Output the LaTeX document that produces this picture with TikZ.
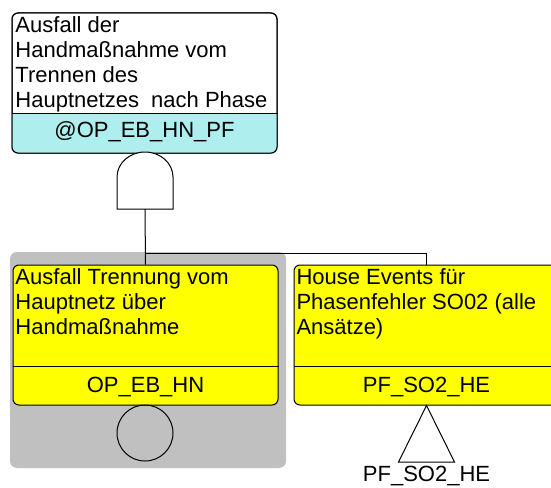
\documentclass[tikz,border=0pt]{standalone}
\usepackage{fontspec}
\setmainfont{Liberation Sans}
\definecolor{cyanfill}{RGB}{175,238,238}
\definecolor{yellowfill}{RGB}{255,255,0}
\definecolor{greyfill}{RGB}{192,192,192}
\begin{document}
\begin{tikzpicture}[x=1pt,y=-1pt,
  line width=1pt,
  txt/.style={font=\fontsize{22}{25}\selectfont, inner sep=0pt, align=left, anchor=north west},
  code/.style={font=\fontsize{22}{25}\selectfont, inner sep=0pt, anchor=base},
  evbox/.style={draw=black, rounded corners=6pt, minimum width=265pt, minimum height=140pt, inner sep=0pt}
]
\useasboundingbox (0,0) rectangle (551,487);
% shaded background of the transferred event
\fill[greyfill, rounded corners=7pt] (10,252) rectangle (286,468);

% top event box
\node[evbox, fill=white] (top) at (144.5,83) {};
\begin{scope}
  \clip (0,113) rectangle (300,160);
  \fill[cyanfill, rounded corners=6pt] (12,13) rectangle (277,153);
\end{scope}
\node[evbox] at (144.5,83) {};
\draw (top.west |- 0,113) coordinate (tsep) -- (top.east |- 0,113);
\node[txt] (ttext) at (15,16) {Ausfall der\\Handmaßnahme vom\\Trennen des\\Hauptnetzes~ nach Phase};
\node[code] (tcode) at (144.5,137) {@OP\_EB\_HN\_PF};

% AND gate
\draw[fill=white] (117,209) -- (117,177) arc[start angle=180, end angle=0, x radius=28pt, y radius=25pt] -- (173,209) -- cycle;
\coordinate (gb) at (145,209);
\coordinate (j) at (145,253);

% left event box
\node[evbox, fill=yellowfill] (lbox) at (145.5,335) {};
\draw (lbox.west |- 0,366) -- (lbox.east |- 0,366);
\node[txt] (ltext) at (15,268) {Ausfall Trennung vom\\Hauptnetz über\\Handmaßnahme};
\node[code] (lcode) at (145.5,392) {OP\_EB\_HN};
\node[draw, circle, minimum size=56pt, inner sep=0pt] (circ) at (145,433) {};

% right event box
\node[evbox, fill=yellowfill] (rbox) at (426.5,335) {};
\draw (rbox.west |- 0,366) -- (rbox.east |- 0,366);
\node[txt] (rtext) at (296,268) {House Events für\\Phasenfehler SO02 (alle\\Ansätze)};
\node[code] (rcode) at (426.5,392) {PF\_SO2\_HE};
\draw (rbox.south) coordinate (ra) -- (398.5,462) -- (454.5,462) -- cycle;
\node[code] (tlabel) at (426.5,481) {PF\_SO2\_HE};

% connectors
\draw (gb) -- (lbox.north);
\draw (j) -| (rbox.north);
\end{tikzpicture}
\end{document}
